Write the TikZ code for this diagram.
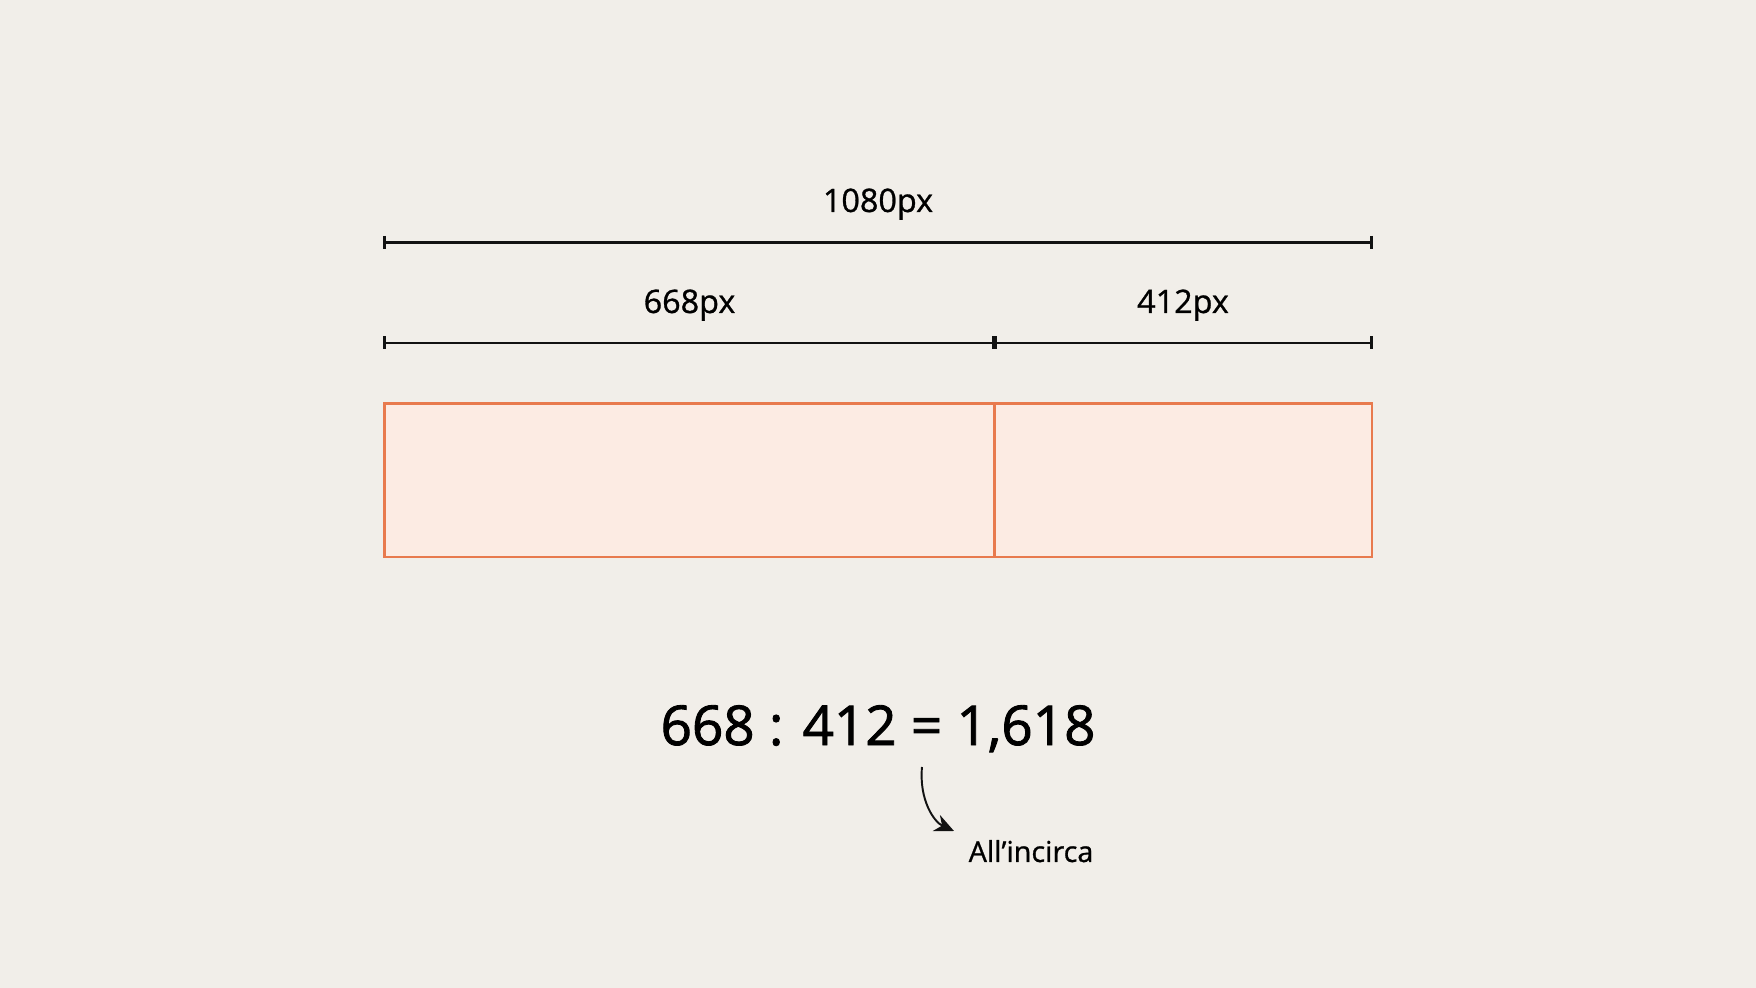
\documentclass[tikz,border=0pt]{standalone}
\usepackage{fontspec}
\setmainfont{Open Sans}
\newfontfamily\heavyfont{Open Sans}[FakeBold=0.9]
\newfontfamily\ratiofont{Open Sans}[FakeBold=1.6]
\usepackage{tikz}
\usetikzlibrary{arrows.meta,positioning,calc}
\definecolor{bgcol}{RGB}{241,238,233}
\definecolor{rectfill}{RGB}{252,235,227}
\definecolor{rectline}{RGB}{232,122,78}
\definecolor{inkcol}{RGB}{18,18,18}
\tikzset{
  dimline/.style={draw=inkcol,line width=0.65pt},
  dimtick/.style={draw=inkcol,line width=0.6pt},
  midtick/.style={draw=inkcol,line width=1.2pt},
  part/.style={draw=rectline,fill=rectfill,line width=0.6pt},
  lbl/.style={inner sep=0pt,anchor=base,text=black}
}
\begin{document}
\begin{tikzpicture}[x=0.01cm,y=-0.01cm]
\fill[bgcol] (0,0) rectangle (1756,988);
\useasboundingbox (0,0) rectangle (1756,988);
\coordinate (L1) at (384.5,242.5);
\coordinate (R1) at (1371.5,242.5);
\coordinate (L2) at (384.5,343);
\coordinate (M2) at (994.5,343);
\coordinate (R2) at (1371.5,343);
\draw[dimline] (L1) -- (R1);
\draw[dimline] (L2) -- (M2) -- (R2);
\foreach \p in {L1,R1,L2,R2}
  \draw[dimtick] ($(\p)+(0,-6.5)$) -- ($(\p)+(0,6.5)$);
\draw[midtick] ($(M2)+(0,-6.5)$) -- ($(M2)+(0,6.5)$);
\node[lbl,font=\heavyfont\fontsize{9.2}{11}\selectfont] (total) at (878,212) {1080px};
\node[lbl,font=\heavyfont\fontsize{9.2}{11}\selectfont] (major) at (689.5,313) {668px};
\node[lbl,font=\heavyfont\fontsize{9.2}{11}\selectfont] (minor) at (1183,313) {412px};
\draw[part] (384.5,403.5) coordinate (A) rectangle (994.5,557) coordinate (B);
\draw[part] (B) rectangle (1372,403.5) coordinate (C);
\node[lbl,font=\ratiofont\fontsize{15.6}{18}\selectfont] (ratio) at (878,745) {668 : 412 = 1,618};
\node[lbl,anchor=base west,font=\heavyfont\fontsize{8.2}{9}\selectfont] (approx) at (968,862) {All’incirca};
\coordinate (arrS) at (922,767);
\coordinate (arrE) at (954,831);
\draw[inkcol,line width=0.55pt,-{Stealth[length=5.5pt,width=5pt]}] (arrS) .. controls (919,800) and (934,822) .. (arrE);
\end{tikzpicture}
\end{document}
